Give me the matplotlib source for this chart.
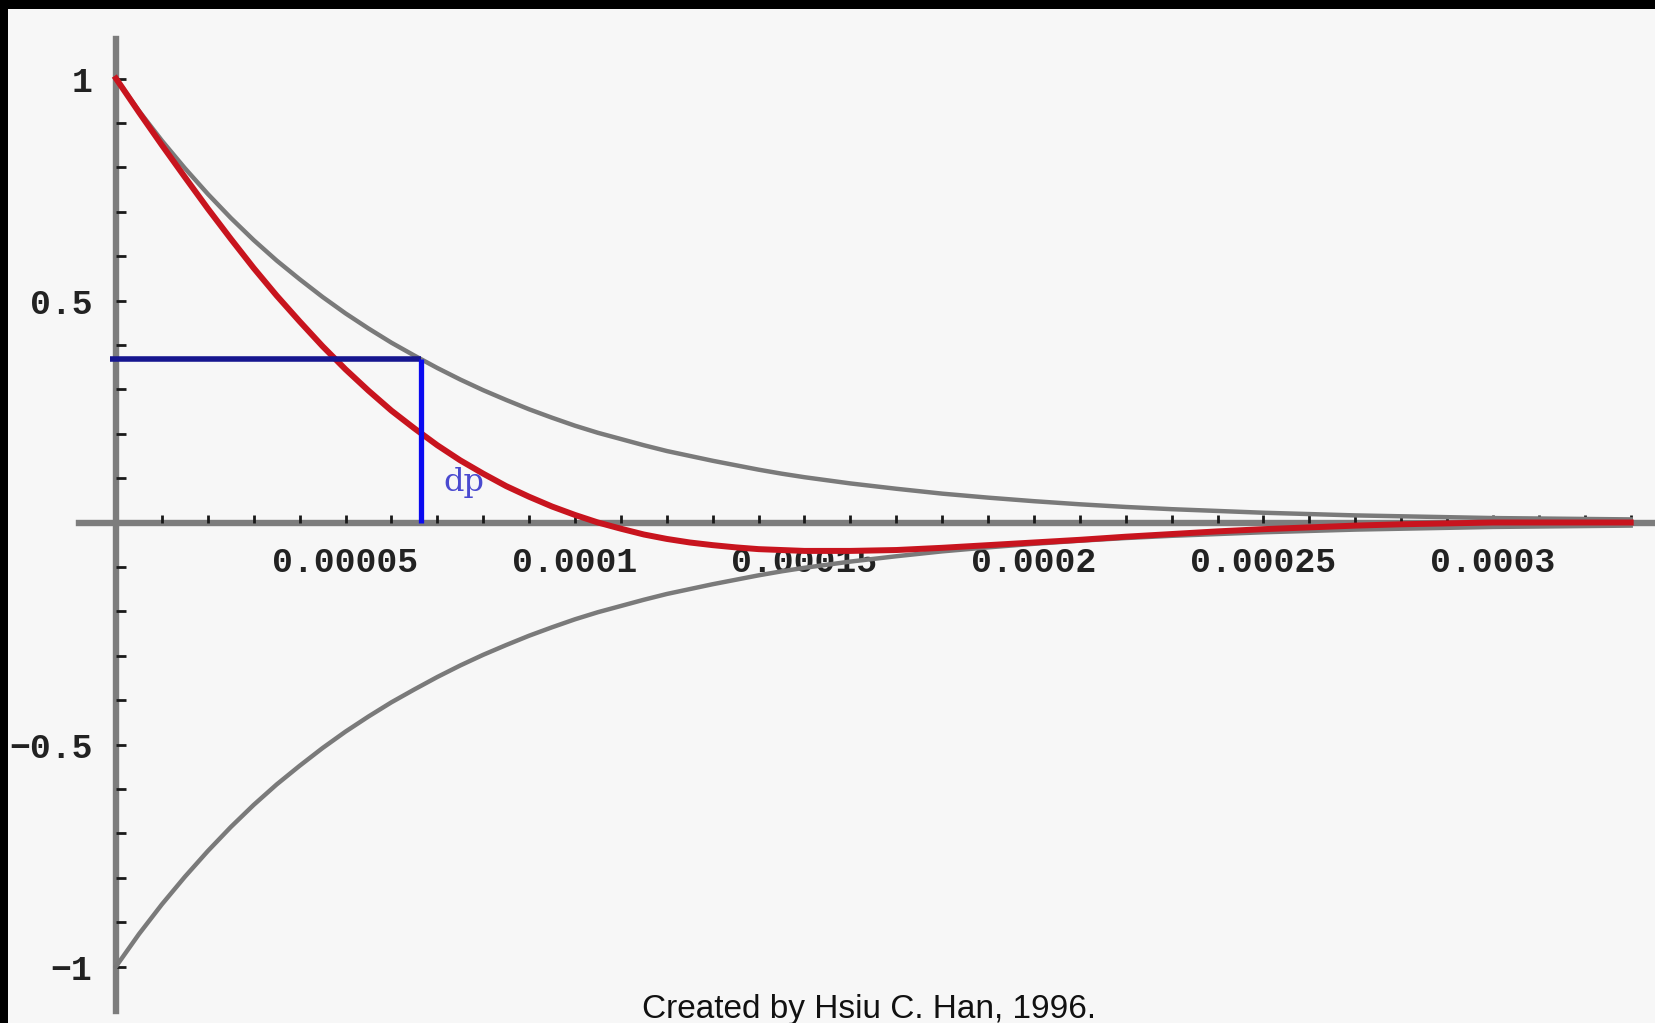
import matplotlib
matplotlib.use("Agg")
import matplotlib.pyplot as plt
from matplotlib.patches import Rectangle

# time axis (s) and curves
t = [0.0, 0.5e-5, 1e-5, 1.5e-5, 2e-5, 2.5e-5, 3e-5, 3.5e-5, 4e-5, 4.5e-5,
     5e-5, 5.5e-5, 6e-5, 6.5e-5, 7e-5, 7.5e-5, 8e-5, 8.5e-5, 9e-5, 9.5e-5,
     10e-5, 10.5e-5, 11e-5, 11.5e-5, 12e-5, 12.5e-5, 13e-5, 13.5e-5, 14e-5, 14.5e-5,
     15e-5, 16e-5, 17e-5, 18e-5, 19e-5, 20e-5, 21e-5, 22e-5, 23e-5, 24e-5,
     25e-5, 26e-5, 27e-5, 28e-5, 29e-5, 30e-5, 31e-5, 32e-5, 33e-5]
envelope_upper = [1.0, 0.927, 0.860, 0.798, 0.740, 0.686, 0.636, 0.590, 0.548, 0.508,
                  0.471, 0.437, 0.405, 0.376, 0.348, 0.322, 0.298, 0.276, 0.255, 0.236,
                  0.218, 0.202, 0.188, 0.174, 0.161, 0.150, 0.139, 0.129, 0.119, 0.110,
                  0.102, 0.088, 0.076, 0.065, 0.056, 0.048, 0.041, 0.035, 0.030, 0.026,
                  0.022, 0.019, 0.016, 0.014, 0.012, 0.010, 0.009, 0.008, 0.007]
envelope_lower = [-1.0, -0.927, -0.860, -0.798, -0.740, -0.686, -0.636, -0.590, -0.548, -0.508,
                  -0.471, -0.437, -0.405, -0.376, -0.348, -0.322, -0.298, -0.276, -0.255, -0.236,
                  -0.218, -0.202, -0.188, -0.174, -0.161, -0.150, -0.139, -0.129, -0.119, -0.110,
                  -0.102, -0.088, -0.076, -0.065, -0.056, -0.048, -0.041, -0.035, -0.030, -0.026,
                  -0.022, -0.019, -0.016, -0.014, -0.012, -0.010, -0.009, -0.008, -0.007]
signal = [1.0, 0.924, 0.850, 0.778, 0.707, 0.639, 0.573, 0.511, 0.453, 0.397,
          0.345, 0.297, 0.252, 0.212, 0.174, 0.140, 0.110, 0.082, 0.058, 0.036,
          0.017, 0.0, -0.014, -0.027, -0.037, -0.045, -0.051, -0.056, -0.060, -0.062,
          -0.064, -0.064, -0.062, -0.057, -0.051, -0.045, -0.039, -0.032, -0.026, -0.020,
          -0.015, -0.011, -0.007, -0.004, -0.002, 0.0, 0.0, 0.0, 0.0]

# decay time marker
tau = 6.64e-5
tau_level = 0.368

x_major = [5e-5, 1e-4, 1.5e-4, 2e-4, 2.5e-4, 3e-4]
x_labels = ['0.00005', '0.0001', '0.00015', '0.0002', '0.00025', '0.0003']
x_minor = [i * 1e-5 for i in range(1, 34)]
y_major = [-1, -0.5, 0.5, 1]
y_labels = ['\u22121', '\u22120.5', '0.5', '1']
y_minor = [i / 10 for i in range(-10, 11) if i != 0]

bg = '#f7f7f7'
fig = plt.figure(figsize=(16.56, 10.23), dpi=100, facecolor=bg)
ax = fig.add_axes([0, 0, 1, 1], facecolor=bg)

W, H = 1656, 1023
x0_px, y0_px = 116, 522.5
px_per_x = 229.5 / 5e-5
px_per_y = 444.0
ax.set_xlim(-x0_px / px_per_x, (W - x0_px) / px_per_x)
ax.set_ylim((y0_px - H) / px_per_y, y0_px / px_per_y)

# axes through the origin
for side in ['top', 'right']:
    ax.spines[side].set_visible(False)
ax.spines['left'].set_position(('data', 0))
ax.spines['bottom'].set_position(('data', 0))
ax.spines['left'].set_bounds(-1.10, 1.09)
ax.spines['bottom'].set_bounds(-37 / px_per_x, (W - x0_px) / px_per_x)
for side in ['left', 'bottom']:
    ax.spines[side].set_color('#7d7d7d')
    ax.spines[side].set_linewidth(4.6)
    ax.spines[side].set_zorder(1)

tick_font = dict(family='Liberation Mono', weight='bold', size=25)
ax.set_xticks(x_major)
ax.set_xticklabels(x_labels, fontdict=tick_font, color='#222222')
ax.set_xticks(x_minor, minor=True)
ax.set_yticks(y_major)
ax.set_yticklabels(y_labels, fontdict=tick_font, color='#222222')
ax.set_yticks(y_minor, minor=True)
ax.tick_params(axis='x', which='both', direction='in', length=6, width=2,
               color='#1a1a1a', pad=17)
ax.tick_params(axis='y', which='both', direction='in', length=7, width=2,
               color='#1a1a1a', pad=17)

# curves
ax.plot(t, envelope_upper, color='#7a7a7a', lw=3.2, zorder=2)
ax.plot(t, envelope_lower, color='#7a7a7a', lw=3.2, zorder=2)
ax.plot(t, signal, color='#c8141e', lw=4.3, zorder=3)

# 1/e marker
ax.plot([-1.2e-6, tau], [tau_level, tau_level], color='#16168f', lw=4.0,
        solid_capstyle='butt', zorder=4)
ax.plot([tau, tau], [0, tau_level], color='#0a0af0', lw=3.8,
        solid_capstyle='butt', zorder=4)
ax.text(7.58e-5, 0.089, 'dp', color='#4a4ad0', fontsize=23,
        family='DejaVu Serif', ha='center', va='center', zorder=5)

fig.text(0.525, 0.005, 'Created by Hsiu C. Han, 1996.', ha='center', va='baseline',
         family='Liberation Sans', fontsize=24, color='#111111')

# black frame strips at the top and left
fig.patches.append(Rectangle((0, 1 - 9 / H), 1, 9 / H, transform=fig.transFigure,
                             facecolor='black', edgecolor='none', zorder=10))
fig.patches.append(Rectangle((0, 0), 8 / W, 1, transform=fig.transFigure,
                             facecolor='black', edgecolor='none', zorder=10))

fig.savefig('out.png', dpi=100, facecolor=bg)
